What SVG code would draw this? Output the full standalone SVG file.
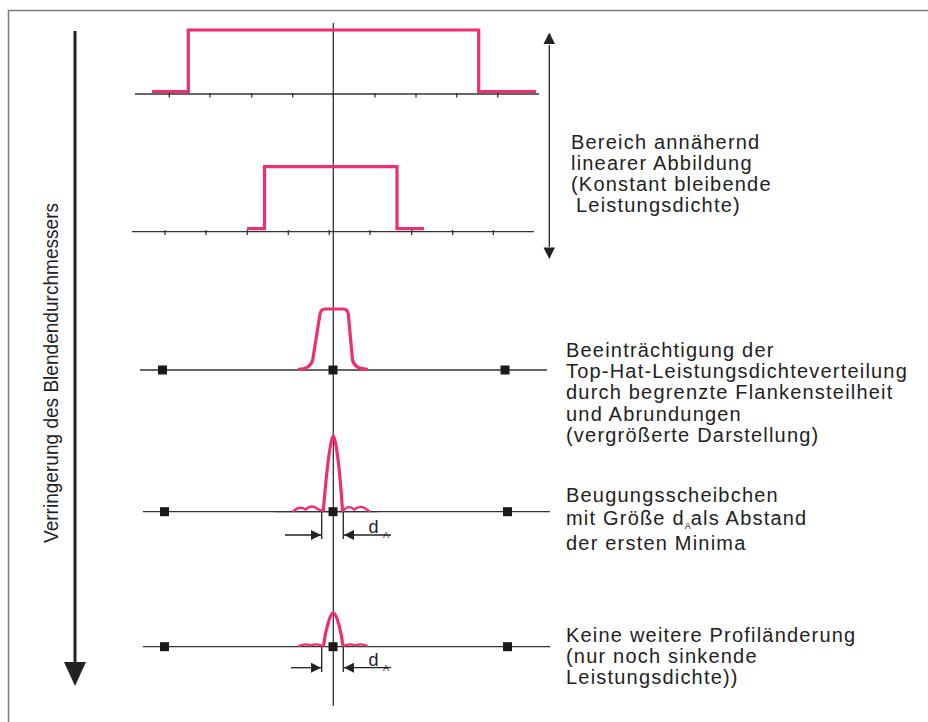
<svg xmlns="http://www.w3.org/2000/svg" width="928" height="722" viewBox="0 0 928 722">
<style>
.frame{fill:none;stroke:#7a7a7a;stroke-width:1.5}
.axis{stroke:#333;stroke-width:1.3;fill:none}
.tick{stroke:#333;stroke-width:1.3}
.pink{fill:none;stroke:#ee2d72;stroke-width:3.2;stroke-linejoin:miter}
.lobe{fill:none;stroke:#ee2d72;stroke-width:2.4;stroke-linecap:round}
.sq{fill:#1c1a17}
.dim{stroke:#222;stroke-width:1.3;fill:none}
.lbl{font-family:"Liberation Sans",Arial,sans-serif;font-size:20px;letter-spacing:1.2px;fill:#222}
.d{font-family:"Liberation Sans",Arial,sans-serif;font-size:18px;fill:#222}
.sub{font-family:"Liberation Sans",Arial,sans-serif;font-size:9px;fill:#222;letter-spacing:0}
</style>
<defs>
<marker id="ah" viewBox="0 0 10 10" refX="10" refY="5" markerWidth="10" markerHeight="10" markerUnits="userSpaceOnUse" orient="auto">
<path d="M0,0 L10,5 L0,10 z" fill="#222"/>
</marker>
</defs>
<rect width="928" height="722" fill="#fff"/>
<path class="frame" d="M8.5,722 V10.5 H928"/>

<g id="central-axis"><line class="axis" x1="333.3" y1="23" x2="333.3" y2="706"/></g>

<g id="profile-1">
<line class="axis" x1="135" y1="94" x2="539" y2="94"/>
<path class="tick" d="M169.3,93V97.5M210,93V97.5M251.7,93V97.5M292.7,93V97.5M333.3,93V97.5M375,93V97.5M416,93V97.5M456.7,93V97.5M497.7,93V97.5"/>
<path class="pink" d="M152,91.5 H188.3 V30 H478.7 V91.5 H536" stroke-width="3.4"/>
</g>

<g id="profile-2">
<line class="axis" x1="132" y1="231.7" x2="534" y2="231.7"/>
<path class="tick" d="M165,230V235M206,230V235M247.3,230V235M288.3,230V235M329.3,230V235M370,230V235M411.7,230V235M452.7,230V235M493.3,230V235"/>
<path class="pink" d="M247,228.7 H264.5 V166.7 H397 V228.7 H424"/>
</g>

<g id="profile-3">
<line class="axis" x1="140" y1="370" x2="547" y2="370"/>
<rect class="sq" x="158" y="365.5" width="9" height="9"/>
<rect class="sq" x="328.5" y="365.5" width="9" height="9"/>
<rect class="sq" x="500.5" y="365.5" width="9" height="9"/>
<path class="pink" d="M298,369.3 Q310,369.5 312.7,360 L320,314 Q321,309 325,309 L343.5,309 Q347.5,309 348.3,314 L352.5,360 Q355,369.5 368,369.3" stroke-width="3"/>
</g>

<g id="profile-4">
<line class="axis" x1="143" y1="511.7" x2="550" y2="511.7"/>
<line class="axis" x1="275" y1="511.7" x2="377" y2="511.7" stroke-width="2"/>
<path class="lobe" d="M293.5,511 Q300,505.5 305.5,509.5 Q312,504 317.5,509 L322.5,511"/>
<path class="lobe" d="M343,511 Q348.5,504 354.5,509.5 Q360.5,504.5 366,509 L369,511"/>
<path class="pink" d="M323.3,511 C326,478 330,440 333.3,436 C336.6,440 340.5,478 342.5,511" stroke-width="5"/>
<rect class="sq" x="160" y="507.2" width="9" height="9"/>
<rect class="sq" x="328.5" y="507.2" width="9" height="9"/>
<rect class="sq" x="503" y="507.2" width="9" height="9"/>
</g>

<g id="profile-5">
<line class="axis" x1="143" y1="646.7" x2="550" y2="646.7"/>
<path class="lobe" d="M299,646 Q305,643 311,645.5 Q317,643 322.5,646" stroke-width="2.2"/>
<path class="lobe" d="M343.5,646 Q349.5,643 355.5,645.5 Q361.5,643 367,646" stroke-width="2.2"/>
<path class="pink" d="M323.5,646 C325.5,630 330,613.5 333.3,612.7 C336.6,613.5 341,630 343,646" stroke-width="4.6"/>
<rect class="sq" x="160" y="642.2" width="9" height="9"/>
<rect class="sq" x="328.5" y="642.2" width="9" height="9"/>
<rect class="sq" x="503" y="642.2" width="9" height="9"/>
</g>

<g id="connectors">
<line x1="75" y1="31" x2="75" y2="666" stroke="#222" stroke-width="3"/>
<path d="M64,662 L86,662 L75,686 z" fill="#222"/>
<line x1="549.3" y1="45" x2="549.3" y2="247" stroke="#222" stroke-width="1.3"/>
<path d="M543.5,44 L549.3,32.5 L555,44 z" fill="#222"/>
<path d="M543.5,247.5 L549.3,259 L555,247.5 z" fill="#222"/>
<path class="dim" d="M321.7,511.7 V539 M343.3,511.7 V539"/>
<line class="dim" x1="285" y1="535" x2="321" y2="535" marker-end="url(#ah)"/>
<line class="dim" x1="391" y1="535" x2="344" y2="535" marker-end="url(#ah)"/>
<path class="dim" d="M321.7,646.7 V672 M343.3,646.7 V672"/>
<line class="dim" x1="291" y1="667.7" x2="321" y2="667.7" marker-end="url(#ah)"/>
<line class="dim" x1="391" y1="667.7" x2="344" y2="667.7" marker-end="url(#ah)"/>
</g>

<g id="label-dA-1"><text class="d" x="368.5" y="533">d</text><text class="sub" x="383" y="538">A</text></g>
<g id="label-dA-2"><text class="d" x="368.5" y="666">d</text><text class="sub" x="383" y="671">A</text></g>

<g id="label-vertical">
<text class="lbl" transform="translate(58,543) rotate(-90)" x="0" y="0" textLength="340" lengthAdjust="spacingAndGlyphs" style="letter-spacing:0;font-size:21px">Verringerung des Blendendurchmessers</text>
</g>

<g id="text-1">
<text class="lbl" x="571" y="149">Bereich annähernd</text>
<text class="lbl" x="571" y="170">linearer Abbildung</text>
<text class="lbl" x="571" y="191">(Konstant bleibende</text>
<text class="lbl" x="576" y="212">Leistungsdichte)</text>
</g>

<g id="text-2">
<text class="lbl" x="566" y="356.5">Beeinträchtigung der</text>
<text class="lbl" x="566" y="378">Top-Hat-Leistungsdichteverteilung</text>
<text class="lbl" x="566" y="399">durch begrenzte Flankensteilheit</text>
<text class="lbl" x="566" y="420.5">und Abrundungen</text>
<text class="lbl" x="566" y="442">(vergrößerte Darstellung)</text>
</g>

<g id="text-3">
<text class="lbl" x="566" y="502">Beugungsscheibchen</text>
<text class="lbl" x="566" y="525">mit Größe d<tspan class="sub" dy="4">A</tspan><tspan dy="-4">als Abstand</tspan></text>
<text class="lbl" x="566" y="550">der ersten Minima</text>
</g>

<g id="text-4">
<text class="lbl" x="566" y="642">Keine weitere Profiländerung</text>
<text class="lbl" x="566" y="663">(nur noch sinkende</text>
<text class="lbl" x="566" y="684">Leistungsdichte))</text>
</g>
</svg>
